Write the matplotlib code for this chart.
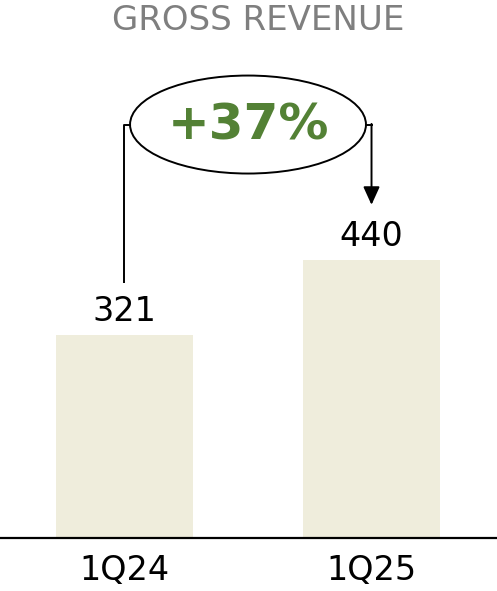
import matplotlib
matplotlib.use("Agg")
import matplotlib.pyplot as plt
from matplotlib.patches import Ellipse

categories = ["1Q24", "1Q25"]
values = [321, 440]
growth_label = "+37%"
title = "GROSS REVENUE"

bar_color = "#EFEDDC"
green = "#538135"
grey = "#7F7F7F"
font = "DejaVu Sans"

W, H, DPI = 497, 591, 100
fig = plt.figure(figsize=(W / DPI, H / DPI), dpi=DPI)
ax = fig.add_axes([0, 53 / H, 1, 538 / H])

x = list(range(len(categories)))
ax.bar(x, values, width=0.555, color=bar_color, zorder=1)
ax.set_xlim(-0.504, 1.508)
ax.set_ylim(0, 851)

for xi, v in zip(x, values):
    ax.text(xi, v + 37, f"{v}", ha="center", va="center",
            fontsize=24, family=font, color="black")

for xi, c in zip(x, categories):
    ax.text(xi, -52, c, ha="center", va="center",
            fontsize=24, family=font, color="black", clip_on=False)

for s in ["top", "left", "right"]:
    ax.spines[s].set_visible(False)
ax.spines["bottom"].set_linewidth(1.6)
ax.set_xticks([])
ax.set_yticks([])

# growth bubble connecting the two bars
ex, ey, ew, eh = 0.5, 654, 0.955, 155
ax.add_patch(Ellipse((ex, ey), ew, eh, facecolor="white",
                     edgecolor="black", linewidth=1.4, zorder=3))
ax.text(ex, ey - 2, growth_label, ha="center", va="center", fontsize=36,
        fontweight="bold", family=font, color=green, zorder=4)

left_x = x[0]
ax.plot([left_x, left_x, ex - ew / 2], [values[0] + 82, ey, ey],
        color="black", lw=1.4, zorder=2, solid_capstyle="butt")
right_x = x[1]
ax.plot([ex + ew / 2, right_x], [ey, ey], color="black", lw=1.4, zorder=2)
ax.annotate("", xy=(right_x, values[1] + 87), xytext=(right_x, ey + 1),
            arrowprops=dict(arrowstyle="-|>,head_length=1.1,head_width=0.5",
                            color="black", lw=1.4, shrinkA=0, shrinkB=0),
            zorder=2)

fig.text(258 / W, 1 - 20 / H, title, ha="center", va="center",
         fontsize=24.5, family=font, color=grey)

fig.savefig("out.png", dpi=DPI)
